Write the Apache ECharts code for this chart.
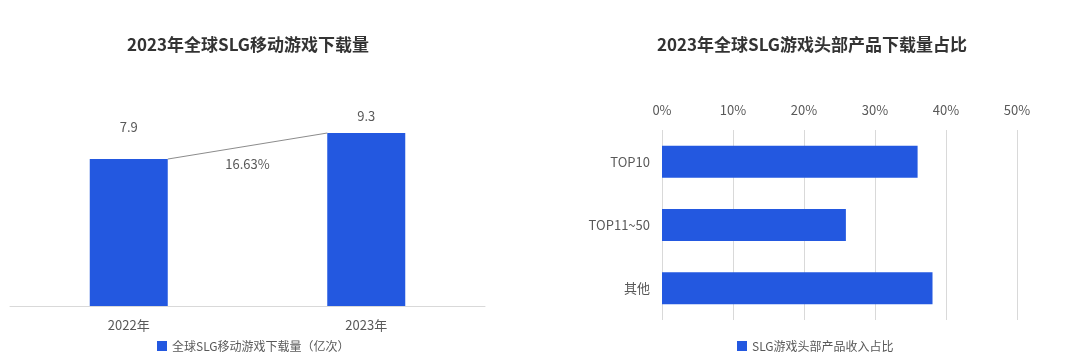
<!DOCTYPE html>
<html>
<head>
<meta charset="utf-8">
<script src="https://cdn.jsdelivr.net/npm/echarts@6/dist/echarts.min.js"></script>
<style>
html,body{margin:0;padding:0;background:#fff;}
#c{width:1074px;height:362px;}
</style>
</head>
<body>
<div id="c"></div>
<script>
// ---- data ----
const leftTitle = '2023年全球SLG移动游戏下载量';
const leftCategories = ['2022年', '2023年'];
const leftValues = [7.9, 9.3];
const leftSeriesName = '全球SLG移动游戏下载量（亿次）';
const growthLabel = ['16.63%'];

const rightTitle = '2023年全球SLG游戏头部产品下载量占比';
const rightCategories = ['TOP10', 'TOP11~50', '其他'];
const rightValues = [36.0, 25.9, 38.1];
const rightSeriesName = 'SLG游戏头部产品收入占比';
const rightTicks = { min: 0, max: 50, interval: 10 };

// ---- style ----
const FONT = '"Noto Sans CJK SC", "Noto Sans", sans-serif';
const BLUE = '#2358e0';
const TXT = '#595959';
const GRIDLINE = '#d9d9d9';
const leftLabelDistances = [25, 10];
const leftBarWidth = 78;

const chart = echarts.init(document.getElementById('c'), null, { renderer: 'canvas' });

const leftData = leftValues.map((v, i) => ({
  value: v,
  label: { distance: leftLabelDistances[i] }
}));

const option = {
  backgroundColor: '#ffffff',
  textStyle: { fontFamily: FONT },
  animation: false,
  title: [
    { text: leftTitle, left: 248, top: 36, textAlign: 'center', padding: 0,
      textStyle: { fontFamily: FONT, fontSize: 17, fontWeight: 'bold', color: '#333333' } },
    { text: rightTitle, left: 812, top: 36, textAlign: 'center', padding: 0,
      textStyle: { fontFamily: FONT, fontSize: 17, fontWeight: 'bold', color: '#333333' } }
  ],
  legend: [
    { data: [leftSeriesName], left: 157, top: 340, padding: 0, icon: 'rect', itemWidth: 10, itemHeight: 10, itemGap: 4,
      textStyle: { fontFamily: FONT, fontSize: 12, color: TXT } },
    { data: [rightSeriesName], left: 737, top: 340, padding: 0, icon: 'rect', itemWidth: 10, itemHeight: 10, itemGap: 4,
      textStyle: { fontFamily: FONT, fontSize: 12, color: TXT } }
  ],
  grid: [
    { left: 10, right: 589, top: 120, bottom: 56 },
    { left: 662, right: 57, top: 130, bottom: 42 }
  ],
  xAxis: [
    { type: 'category', gridIndex: 0, data: leftCategories,
      axisLine: { lineStyle: { color: GRIDLINE } }, axisTick: { show: false },
      axisLabel: { color: TXT, fontSize: 13, margin: 13, fontFamily: FONT } },
    { type: 'value', gridIndex: 1, position: 'top', min: rightTicks.min, max: rightTicks.max, interval: rightTicks.interval,
      axisLine: { show: false }, axisTick: { show: false },
      axisLabel: { color: TXT, fontSize: 13, margin: 13, formatter: '{value}%', fontFamily: FONT },
      splitLine: { show: true, lineStyle: { color: GRIDLINE } } }
  ],
  yAxis: [
    { type: 'value', gridIndex: 0, min: 0, max: 10, show: false, splitLine: { show: false } },
    { type: 'category', gridIndex: 1, data: rightCategories, inverse: true,
      axisLine: { show: false }, axisTick: { show: false },
      axisLabel: { color: TXT, fontSize: 13, margin: 12, fontFamily: FONT } }
  ],
  series: [
    { name: leftSeriesName, type: 'bar', xAxisIndex: 0, yAxisIndex: 0, data: leftData,
      barWidth: leftBarWidth, itemStyle: { color: BLUE },
      label: { show: true, position: 'top', color: TXT, fontSize: 13, fontFamily: FONT } },
    { name: 'growth', type: 'custom', xAxisIndex: 0, yAxisIndex: 0,
      data: [[0, leftValues[0], 1, leftValues[1]]], z: 5, silent: true,
      renderItem: function (params, api) {
        const p1 = api.coord([api.value(0), api.value(1)]);
        const p2 = api.coord([api.value(2), api.value(3)]);
        const hw = leftBarWidth / 2;
        const x1 = p1[0] + hw, y1 = p1[1];
        const x2 = p2[0] - hw, y2 = p2[1];
        return {
          type: 'group',
          children: [
            { type: 'line', shape: { x1: x1, y1: y1, x2: x2, y2: y2 },
              style: { stroke: '#8c8c8c', lineWidth: 1 } },
            { type: 'text', x: (x1 + x2) / 2, y: (y1 + y2) / 2 + 18,
              style: { text: growthLabel[0], fill: TXT, fontSize: 13, fontFamily: FONT,
                       align: 'center', verticalAlign: 'middle' } }
          ]
        };
      } },
    { name: rightSeriesName, type: 'bar', xAxisIndex: 1, yAxisIndex: 1, data: rightValues,
      barWidth: 32, itemStyle: { color: BLUE } }
  ]
};
chart.setOption(option);
</script>
</body>
</html>
